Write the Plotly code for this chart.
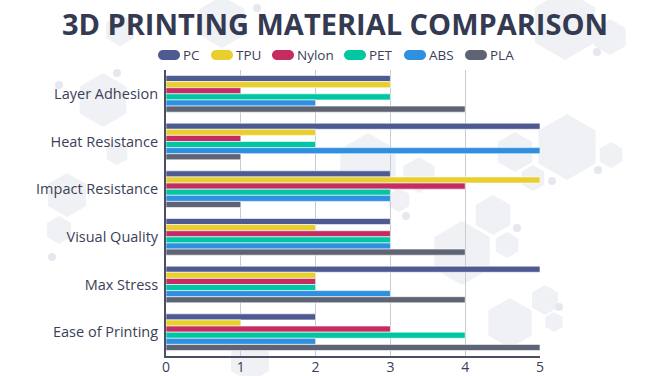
import math
import plotly.graph_objects as go

categories = ["Layer Adhesion", "Heat Resistance", "Impact Resistance",
              "Visual Quality", "Max Stress", "Ease of Printing"]
series_names = ["PC", "TPU", "Nylon", "PET", "ABS", "PLA"]
pc = [3, 5, 3, 3, 5, 2]
tpu = [3, 2, 5, 2, 2, 1]
nylon = [1, 1, 4, 3, 2, 3]
pet = [3, 2, 3, 3, 2, 4]
abs_ = [2, 5, 3, 3, 3, 2]
pla = [4, 1, 1, 4, 4, 5]
x_ticks = [0, 1, 2, 3, 4, 5]

series_values = [pc, tpu, nylon, pet, abs_, pla]
colors = ["#4e5b92", "#e9cf2e", "#c42c62", "#00c6a2", "#2f8fe0", "#5f6474"]

fig = go.Figure()
for name, vals, col in zip(series_names, series_values, colors):
    fig.add_trace(go.Bar(
        name=name, y=categories, x=vals, orientation="h", showlegend=False,
        marker=dict(color=col, line=dict(color="white", width=0.6)),
    ))

# ---- layout geometry (pixels) ----
W, H = 670, 376
L, R, T, B = 166, 130, 70, 20
pw, ph = W - L - R, H - T - B


def to_paper(px, py):
    return (px - L) / pw, (H - B - py) / ph


def path_from(pts_cmds):
    out = []
    for cmd, pts in pts_cmds:
        conv = [to_paper(x, y) for x, y in pts]
        out.append(cmd + " " + " ".join(f"{x:.5f},{y:.5f}" for x, y in conv))
    return " ".join(out) + " Z"


def hex_path(cx, cy, r):
    cmds = []
    for k in range(6):
        a = math.radians(90 + 60 * k)
        cmds.append(("M" if k == 0 else "L",
                     [(cx + r * math.cos(a), cy - r * math.sin(a))]))
    return path_from(cmds)


def pill_path(x, yc, w=22, h=10):
    r = h / 2
    k = 0.5523 * r
    y0, y1 = yc - r, yc + r
    return path_from([
        ("M", [(x + r, y0)]),
        ("L", [(x + w - r, y0)]),
        ("C", [(x + w - r + k, y0), (x + w, yc - k), (x + w, yc)]),
        ("C", [(x + w, yc + k), (x + w - r + k, y1), (x + w - r, y1)]),
        ("L", [(x + r, y1)]),
        ("C", [(x + r - k, y1), (x, yc + k), (x, yc)]),
        ("C", [(x, yc - k), (x + r - k, y0), (x + r, y0)]),
    ])


hexes = [(368, 165, 32), (419, 175, 18), (399, 200, 12), (515, 152, 20),
         (533, 178, 13), (493, 215, 20), (462, 253, 32), (507, 245, 13),
         (565, 25, 35), (610, 37, 18), (567, 147, 33), (611, 155, 13),
         (545, 300, 15), (554, 322, 10), (103, 100, 27), (117, 153, 12),
         (67, 195, 22), (59, 230, 14), (222, 22, 26), (120, 30, 16),
         (250, 360, 22), (510, 323, 25)]
circles = [(406, 216, 4), (517, 228, 4), (597, 52, 4), (552, 181, 4),
           (598, 170, 4), (559, 307, 4), (59, 85, 4), (117, 73, 4),
           (52, 257, 4), (257, 8, 4)]
shapes = []
for cx, cy, r in hexes:
    shapes.append(dict(type="path", path=hex_path(cx, cy, r), xref="paper",
                       yref="paper", fillcolor="#eff1f5", line=dict(width=0),
                       layer="below"))
for cx, cy, r in circles:
    x0, y0 = to_paper(cx - r, cy + r)
    x1, y1 = to_paper(cx + r, cy - r)
    shapes.append(dict(type="circle", x0=x0, y0=y0, x1=x1, y1=y1, xref="paper",
                       yref="paper", fillcolor="#e6e8ef", line=dict(width=0),
                       layer="below"))

# custom legend: rounded pills + labels
legend_left = [158, 211, 272, 344, 404, 465]
legend_yc = 55
annotations = []
for name, col, lx in zip(series_names, colors, legend_left):
    shapes.append(dict(type="path", path=pill_path(lx, legend_yc), xref="paper",
                       yref="paper", fillcolor=col, line=dict(width=0),
                       layer="above"))
    ax, ay = to_paper(lx + 23, legend_yc)
    annotations.append(dict(text=name, x=ax, y=ay, xref="paper", yref="paper",
                            xanchor="left", yanchor="middle", showarrow=False,
                            font=dict(family="Open Sans", size=13.5,
                                      color="#3b4058")))

fig.update_layout(
    width=W, height=H,
    margin=dict(l=L, r=R, t=T, b=B, autoexpand=False),
    paper_bgcolor="white", plot_bgcolor="rgba(0,0,0,0)",
    font=dict(family="Open Sans", color="#3b4058"),
    title=dict(text="<b>3D PRINTING MATERIAL COMPARISON</b>",
               x=0.5, xref="container", xanchor="center",
               y=1 - 25 / H, yref="container", yanchor="middle",
               font=dict(family="Open Sans", size=29, color="#343a52")),
    barmode="group", bargap=0.23, bargroupgap=0,
    showlegend=False,
    shapes=shapes,
    annotations=annotations,
    xaxis=dict(range=[0, 5], tickvals=x_ticks, ticktext=[str(t) for t in x_ticks],
               showgrid=True, gridcolor="#c9cbd3", gridwidth=1,
               showline=True, linecolor="#4a4f63", linewidth=2,
               zeroline=False, ticklabelstandoff=-3,
               tickfont=dict(size=14, color="#3b4058"),
               fixedrange=True, automargin=False),
    yaxis=dict(autorange="reversed", showgrid=False, showline=True,
               linecolor="#4a4f63", linewidth=2, ticks="",
               ticklabelstandoff=3, tickfont=dict(size=14.5, color="#3b4058"),
               automargin=False),
)

fig.write_html("out.html", config={"displayModeBar": False},
               post_script="document.body.style.margin='0';")
